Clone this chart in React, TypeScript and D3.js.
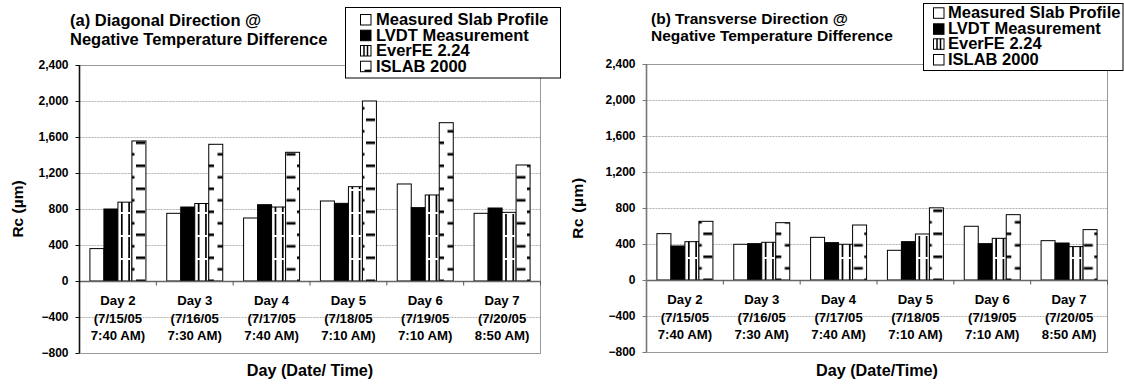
import { useEffect, useRef } from "react";
import * as d3 from "d3";

const days = ["Day 2", "Day 3", "Day 4", "Day 5", "Day 6", "Day 7"];
const dates = ["(7/15/05", "(7/16/05", "(7/17/05", "(7/18/05", "(7/19/05", "(7/20/05"];
const times = ["7:40 AM)", "7:30 AM)", "7:40 AM)", "7:10 AM)", "7:10 AM)", "8:50 AM)"];
const seriesNames = ["Measured Slab Profile", "LVDT Measurement", "EverFE 2.24", "ISLAB 2000"];
const yTicks = [-800, -400, 0, 400, 800, 1200, 1600, 2000, 2400];

// (a) diagonal direction, Rc in micrometres
const diagMeasured = [360, 752, 700, 889, 1078, 752];
const diagLvdt = [800, 822, 848, 863, 815, 811];
const diagEverfe = [876, 861, 822, 1048, 956, 763];
const diagIslab = [1556, 1519, 1430, 2000, 1759, 1289];

// (b) transverse direction
const transMeasured = [515, 397, 474, 330, 597, 437];
const transLvdt = [378, 404, 415, 426, 404, 411];
const transEverfe = [426, 419, 397, 511, 463, 371];
const transIslab = [652, 637, 611, 802, 726, 560];

const FONT = "'Liberation Sans', Arial, sans-serif";

interface PanelCfg {
  id: string;
  title: string[];
  xTitle: string;
  values: number[][];
  left: number;
  right: number;
  top: number;
  bottom: number;
  titleX: number;
  titleY: number[];
  titleSize: number;
  yTitleX: number;
  axisColor: string;
  legend: { x: number; y: number; w: number; h: number; rows: number[]; textX: number; swX: number };
  islabSwatchMark: boolean;
  pat: { x: number; y: number };
}

const panels: PanelCfg[] = [
  {
    id: "a",
    title: ["(a) Diagonal Direction @", "Negative Temperature Difference"],
    xTitle: "Day (Date/ Time)",
    values: [diagMeasured, diagLvdt, diagEverfe, diagIslab],
    left: 79.5,
    right: 540.5,
    top: 65,
    bottom: 353,
    titleX: 70,
    titleY: [26, 44.5],
    titleSize: 16.5,
    yTitleX: 23,
    axisColor: "#111",
    legend: { x: 345.5, y: 7.5, w: 215, h: 70.5, rows: [25, 40.7, 56, 71.7], textX: 376, swX: 360.5 },
    islabSwatchMark: true,
    pat: { x: 21, y: 3.5 },
  },
  {
    id: "b",
    title: ["(b) Transverse Direction @", "Negative Temperature Difference"],
    xTitle: "Day (Date/Time)",
    values: [transMeasured, transLvdt, transEverfe, transIslab],
    left: 646.5,
    right: 1107.5,
    top: 64,
    bottom: 352,
    titleX: 651,
    titleY: [24, 41],
    titleSize: 15.5,
    yTitleX: 583,
    axisColor: "#777",
    legend: { x: 923.5, y: 3.5, w: 199.5, h: 67, rows: [18.3, 34.3, 49.3, 65], textX: 948, swX: 933.5 },
    islabSwatchMark: false,
    pat: { x: 13.3, y: 2.5 },
  },
];

function drawPanel(svg: d3.Selection<SVGSVGElement, unknown, null, undefined>, cfg: PanelCfg) {
  const y = d3.scaleLinear().domain([-800, 2400]).range([cfg.bottom, cfg.top]);
  const x = d3.scaleBand<string>().domain(days).range([cfg.left, cfg.right]);
  const barW = 14;
  const inner = d3
    .scaleBand<string>()
    .domain(seriesNames)
    .range([0, x.bandwidth()])
    .paddingOuter((x.bandwidth() / barW - 4) / 2);

  // dashed horizontal pattern for ISLAB bars
  const defs = svg.append("defs");
  const pat = defs
    .append("pattern")
    .attr("id", "islab-" + cfg.id)
    .attr("patternUnits", "userSpaceOnUse")
    .attr("x", cfg.pat.x)
    .attr("y", cfg.pat.y)
    .attr("width", 23)
    .attr("height", 23);
  pat.append("rect").attr("width", 23).attr("height", 23).attr("fill", "#fff");
  pat.append("rect").attr("x", 0).attr("y", 0).attr("width", 9).attr("height", 2.6).attr("fill", "#000");
  pat.append("rect").attr("x", 12.5).attr("y", 11.5).attr("width", 9).attr("height", 2.6).attr("fill", "#000");
  pat.append("rect").attr("x", -10.5).attr("y", 11.5).attr("width", 9).attr("height", 2.6).attr("fill", "#000");

  const g = svg.append("g");

  // gridlines
  g.selectAll("line.grid")
    .data(yTicks.filter((t) => t !== 0 && t !== 2400 && t !== -800))
    .join("line")
    .attr("x1", cfg.left)
    .attr("x2", cfg.right)
    .attr("y1", (d) => Math.round(y(d)) + 0.5)
    .attr("y2", (d) => Math.round(y(d)) + 0.5)
    .attr("stroke", "#b0b0b0")
    .attr("stroke-dasharray", "2,1");

  // plot area border
  g.append("rect")
    .attr("x", cfg.left)
    .attr("y", Math.round(y(2400)) + 0.5)
    .attr("width", cfg.right - cfg.left)
    .attr("height", Math.round(y(-800)) - Math.round(y(2400)))
    .attr("fill", "none")
    .attr("stroke", "#999");

  // bars
  const fills = ["#fff", "#000", "#fff", `url(#islab-${cfg.id})`];
  cfg.values.forEach((vals, si) => {
    const sname = seriesNames[si];
    const bars = g
      .append("g")
      .selectAll("g")
      .data(vals.map((v, i) => ({ v, day: days[i] })))
      .join("g");
    bars
      .append("rect")
      .attr("x", (d) => x(d.day)! + inner(sname)!)
      .attr("y", (d) => y(Math.max(0, d.v)))
      .attr("width", inner.bandwidth())
      .attr("height", (d) => Math.abs(y(d.v) - y(0)))
      .attr("fill", fills[si])
      .attr("stroke", "#000")
      .attr("stroke-width", 1);
    if (si === 2) {
      [3.9, 11.2].forEach((off) => {
        bars
          .append("line")
          .attr("x1", (d) => x(d.day)! + inner(sname)! + off)
          .attr("x2", (d) => x(d.day)! + inner(sname)! + off)
          .attr("y1", y(0))
          .attr("y2", (d) => y(d.v))
          .attr("stroke", "#000")
          .attr("stroke-width", 1.7)
          .attr("stroke-dasharray", "21,2");
      });
    }
  });

  // zero line with category ticks
  const y0 = Math.round(y(0)) + 0.5;
  g.append("line")
    .attr("x1", cfg.left)
    .attr("x2", cfg.right)
    .attr("y1", y0)
    .attr("y2", y0)
    .attr("stroke", "#666")
    .attr("stroke-width", 1.3);
  g.selectAll("line.cat")
    .data(days.slice(1).concat(["end"]))
    .join("line")
    .attr("x1", (d) => (d === "end" ? cfg.right : x(d)!))
    .attr("x2", (d) => (d === "end" ? cfg.right : x(d)!))
    .attr("y1", y0)
    .attr("y2", y0 + 4)
    .attr("stroke", "#555");

  // y axis
  g.append("line")
    .attr("x1", cfg.left)
    .attr("x2", cfg.left)
    .attr("y1", y(2400))
    .attr("y2", y(-800))
    .attr("stroke", cfg.axisColor)
    .attr("stroke-width", 1.6);
  g.selectAll("line.ytick")
    .data(yTicks)
    .join("line")
    .attr("x1", cfg.left - 4)
    .attr("x2", cfg.left)
    .attr("y1", (d) => Math.round(y(d)) + 0.5)
    .attr("y2", (d) => Math.round(y(d)) + 0.5)
    .attr("stroke", cfg.axisColor);
  g.selectAll("text.ytick")
    .data(yTicks)
    .join("text")
    .attr("x", cfg.left - 11)
    .attr("y", (d) => y(d))
    .attr("dy", "0.36em")
    .attr("text-anchor", "end")
    .attr("font-size", 12)
    .attr("font-weight", "bold")
    .attr("font-family", FONT)
    .text((d) => d3.format(",")(d));

  // category labels
  const cat = g
    .selectAll("text.cat")
    .data(days.map((d, i) => ({ d, i })))
    .join("text")
    .attr("text-anchor", "middle")
    .attr("font-size", 13.2)
    .attr("font-weight", "bold")
    .attr("font-family", FONT);
  [0, 1, 2].forEach((line) => {
    cat
      .append("tspan")
      .attr("x", (p) => x(p.d)! + x.bandwidth() / 2)
      .attr("y", y(0) + 24 + line * 17.5)
      .text((p) => [days, dates, times][line][p.i]);
  });

  // axis titles
  g.append("text")
    .attr("x", (cfg.left + cfg.right) / 2)
    .attr("y", 376)
    .attr("text-anchor", "middle")
    .attr("font-size", 16.2)
    .attr("font-weight", "bold")
    .attr("font-family", FONT)
    .text(cfg.xTitle);
  g.append("text")
    .attr("transform", `translate(${cfg.yTitleX},${(cfg.top + cfg.bottom) / 2}) rotate(-90)`)
    .attr("text-anchor", "middle")
    .attr("font-size", 15.5)
    .attr("font-weight", "bold")
    .attr("font-family", FONT)
    .attr("letter-spacing", cfg.id === "b" ? 0.6 : 0)
    .text("Rc (µm)");

  // title
  const title = g
    .append("text")
    .attr("font-size", cfg.titleSize)
    .attr("font-weight", "bold")
    .attr("font-family", FONT);
  cfg.title.forEach((t, i) => {
    title.append("tspan").attr("x", cfg.titleX).attr("y", cfg.titleY[i]).text(t);
  });

  // legend
  const L = cfg.legend;
  const lg = g.append("g");
  lg.append("rect")
    .attr("x", L.x)
    .attr("y", L.y)
    .attr("width", L.w)
    .attr("height", L.h)
    .attr("fill", "#fff")
    .attr("stroke", "#000");
  const sw = 10.5;
  seriesNames.forEach((name, i) => {
    const by = L.rows[i];
    lg.append("rect")
      .attr("x", L.swX)
      .attr("y", by - sw)
      .attr("width", sw)
      .attr("height", sw)
      .attr("fill", i === 1 ? "#000" : "#fff")
      .attr("stroke", "#000");
    if (i === 2) {
      [3.5, 7].forEach((off) => {
        lg.append("line")
          .attr("x1", L.swX + off)
          .attr("x2", L.swX + off)
          .attr("y1", by - sw)
          .attr("y2", by)
          .attr("stroke", "#000")
          .attr("stroke-width", 1.5);
      });
    }
    if (i === 3 && cfg.islabSwatchMark) {
      lg.append("rect")
        .attr("x", L.swX + 4)
        .attr("y", by - 2)
        .attr("width", sw - 4)
        .attr("height", 2)
        .attr("fill", "#000");
    }
    lg.append("text")
      .attr("x", L.textX)
      .attr("y", by)
      .attr("font-size", 16.5)
      .attr("font-weight", "bold")
      .attr("font-family", FONT)
      .text(name);
  });
}

export default function App() {
  const ref = useRef<SVGSVGElement>(null);

  useEffect(() => {
    document.body.style.margin = "0";
    if (!ref.current) return;
    const svg = d3.select(ref.current);
    svg.selectAll("*").remove();
    panels.forEach((p) => drawPanel(svg, p));
  }, []);

  return (
    <svg
      ref={ref}
      width={1124}
      height={388}
      style={{ display: "block", background: "#fff" }}
    />
  );
}
